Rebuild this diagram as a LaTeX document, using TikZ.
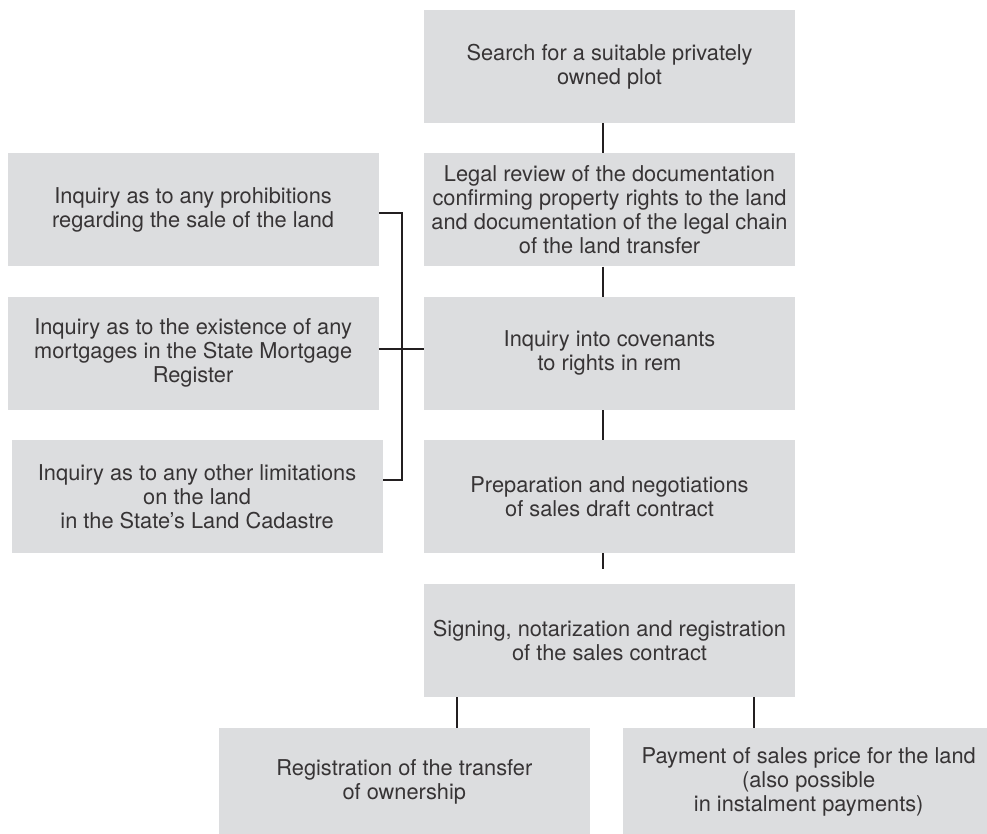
\documentclass[tikz,border=0pt]{standalone}
\usepackage{fontspec}
\setmainfont{TeX Gyre Heros}
\usepackage{xcolor}
\usepackage{tikz}
\usetikzlibrary{positioning}
\definecolor{boxgray}{RGB}{220,221,223}
\definecolor{linedark}{RGB}{35,31,32}
\definecolor{textdark}{RGB}{55,52,53}

\begin{document}
\begin{tikzpicture}[
    node distance=30pt and 45pt,
    stepbox/.style={
        rectangle,
        fill=boxgray,
        text=textdark,
        align=center,
        inner sep=0pt,
        minimum width=371pt,
        minimum height=113pt,
        font=\fontsize{21.8}{24}\selectfont
    },
    link/.style={draw=linedark, line width=2pt}
]

\useasboundingbox (0,0) rectangle (987pt,-834pt);

\node[stepbox] (search) at (609.5pt,-66.5pt) {Search for a suitable privately\\owned plot};
\node[stepbox, below=of search] (legal) {Legal review of the documentation\\confirming property rights to the land\\and documentation of the legal chain\\of the land transfer};
\node[stepbox, below=of legal] (covenant) {Inquiry into covenants\\to rights in rem};
\node[stepbox, below=of covenant] (prep) {Preparation and negotiations\\of sales draft contract};
\node[stepbox, below=of prep] (sign) {Signing, notarization and registration\\of the sales contract};

\node[stepbox, minimum height=108pt, anchor=north east] (regist) at ([xshift=-19.5pt, yshift=-31pt]sign.south) {Registration of the transfer\\of ownership};
\node[stepbox, minimum height=108pt, right=33pt of regist] (pay) {Payment of sales price for the land\\(also possible\\in instalment payments)};

\node[stepbox, left=of legal] (inq1) {Inquiry as to any prohibitions\\regarding the sale of the land};
\node[stepbox, left=of covenant] (inq2) {Inquiry as to the existence of any\\mortgages in the State Mortgage\\Register};
\node[stepbox, left=41pt of prep] (inq3) {Inquiry as to any other limitations\\on the land\\in the State’s Land Cadastre};

\foreach \a/\b in {search/legal, legal/covenant, covenant/prep}
    \draw[link] ([xshift=-6.5pt]\a.south) -- ([xshift=-6.5pt]\b.north);
\draw[link] ([xshift=-6.5pt]prep.south) -- ++(0,-16pt) coordinate (stub);

\draw[link] ([xshift=52.5pt]regist.north) -- ([xshift=52.5pt]regist.north |- sign.south);
\draw[link] ([xshift=-54.5pt]pay.north) -- ([xshift=-54.5pt]pay.north |- sign.south);

\draw[link] ([yshift=-3.5pt]inq1.east) -- ++(23pt,0) coordinate (brace) |- ([yshift=16.5pt]inq3.east);
\draw[link] ([yshift=4pt]inq2.east) -- ([yshift=4pt]covenant.west);

\end{tikzpicture}
\end{document}
